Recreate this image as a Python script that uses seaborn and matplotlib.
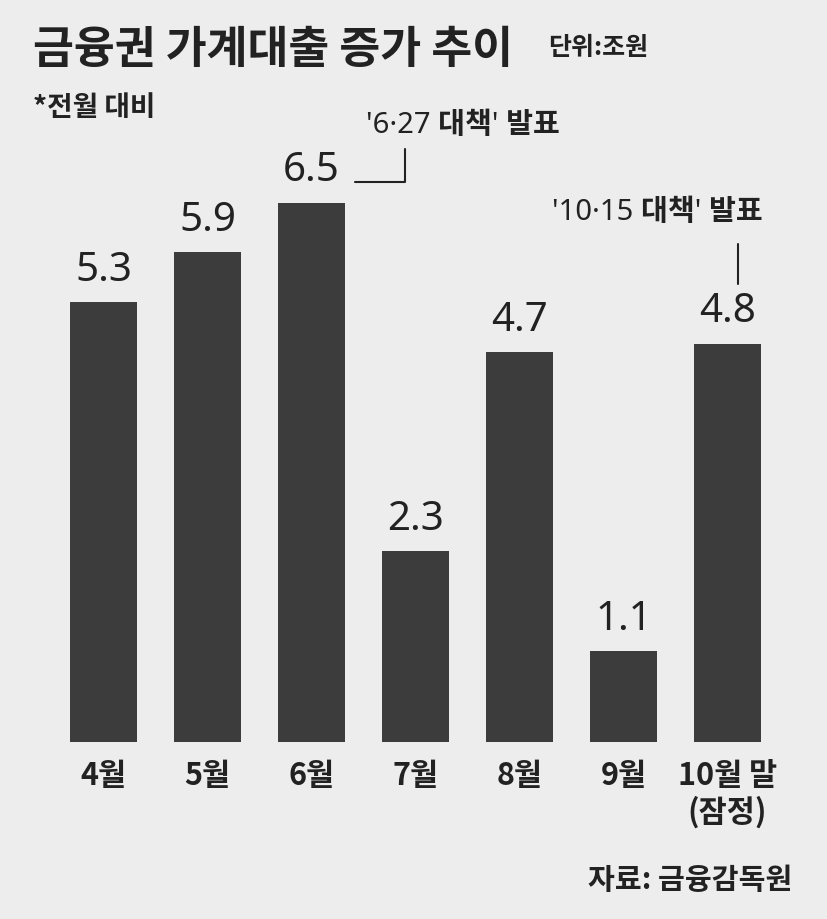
import matplotlib
matplotlib.use("Agg")
import matplotlib.pyplot as plt
import seaborn as sns
import pandas as pd
from matplotlib.lines import Line2D

months = ["4월", "5월", "6월", "7월", "8월", "9월", "10월 말\n(잠정)"]
values = [5.3, 5.9, 6.5, 2.3, 4.7, 1.1, 4.8]

sns.set_style("white")
plt.rcParams['font.family'] = ['Noto Sans CJK KR', 'DejaVu Sans']
LATIN = ['Noto Sans', 'Noto Sans CJK KR']

W, H = 827, 920
fig = plt.figure(figsize=(W / 100, H / 100), dpi=100, facecolor="#ededed")
ax = fig.add_axes([0, 0, 1, 1])
ax.set_facecolor("#ededed")

df = pd.DataFrame({"month": months, "value": values})
sns.barplot(data=df, x="month", y="value", color="#3c3c3c", saturation=1,
            width=0.645, linewidth=0, ax=ax)

ax.set_xlim(-0.995, 6.957)
ax.set_ylim(-2.126, 8.95)
ax.axis("off")

for i, v in enumerate(values):
    ax.text(i, v + 0.15, f"{v}", ha="center", va="bottom", fontsize=29,
            fontweight="bold", color="#222222", family=LATIN)
    ax.text(i, -0.2, months[i], ha="center", va="top", fontsize=22,
            fontweight="bold", color="#222222", linespacing=1.15)

def px(x, y):
    return x / W, 1 - y / H

fig.text(*px(33, 50), "금융권 가계대출 증가 추이", fontsize=32, fontweight="bold",
         va="center", color="#222222")
fig.text(*px(548, 48), "단위:조원", fontsize=18, fontweight="bold",
         va="center", color="#222222")
fig.text(*px(33, 108), "*전월 대비", fontsize=20, fontweight="bold",
         va="center", color="#222222")
fig.text(*px(366, 126), "'6·27 대책' 발표", fontsize=21, fontweight="bold",
         va="center", color="#222222", family=LATIN)
fig.text(*px(552, 213), "'10·15 대책' 발표", fontsize=21, fontweight="bold",
         va="center", color="#222222", family=LATIN)
fig.text(*px(792, 880), "자료: 금융감독원", fontsize=21, fontweight="bold",
         va="center", ha="right", color="#222222")

for xs, ys in [([355, 405, 405], [183, 183, 150]), ([738, 738], [245, 285])]:
    fig.add_artist(Line2D([x / W for x in xs], [1 - y / H for y in ys],
                          color="#222222", lw=1.5, transform=fig.transFigure))

fig.savefig("out.png", dpi=100, facecolor=fig.get_facecolor())
